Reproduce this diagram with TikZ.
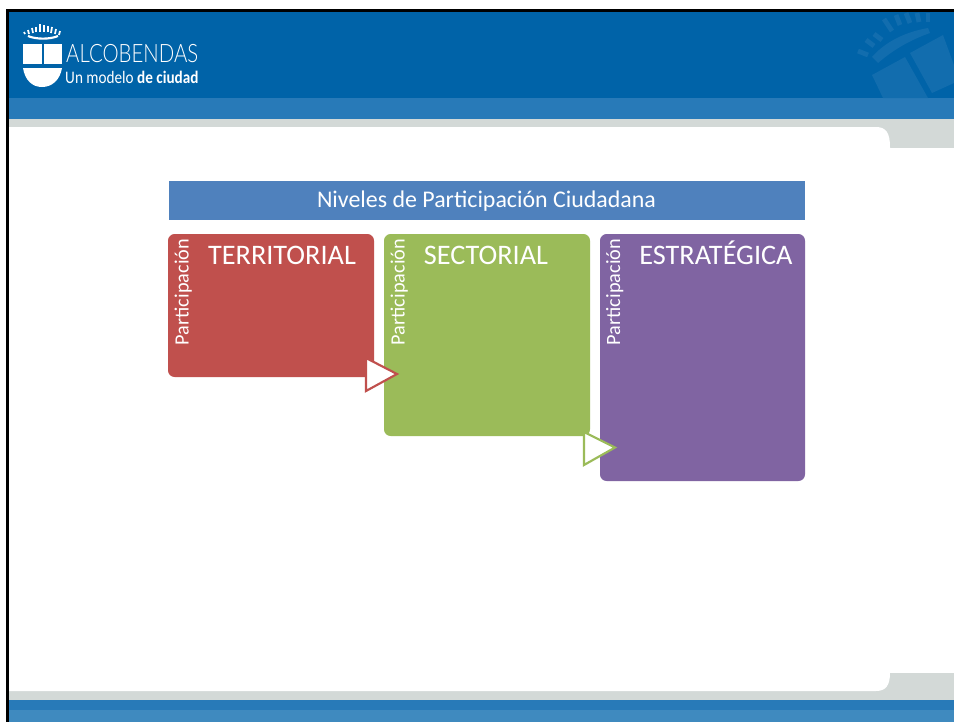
\documentclass[tikz,border=0pt]{standalone}
\usepackage{fontspec}
\setmainfont{Carlito}
\newfontfamily\logofont{Lato Light}
\definecolor{hdr}{HTML}{0063A8}
\definecolor{band}{HTML}{287AB8}
\definecolor{band2}{HTML}{3F8ABF}
\definecolor{gry}{HTML}{D3D9D7}
\definecolor{wm}{HTML}{126DAE}
\definecolor{ttl}{HTML}{4F81BD}
\definecolor{red1}{HTML}{C0504D}
\definecolor{grn1}{HTML}{9BBB59}
\definecolor{pur1}{HTML}{8064A2}
\tikzset{
  x=0.75pt,y=-0.75pt,
  cardbox/.style={rounded corners=5pt,draw=none},
  cardhead/.style={text=white,font=\fontsize{21.2}{24}\selectfont,anchor=base},
  sidelabel/.style={text=white,font=\fontsize{15.2}{17}\selectfont,rotate=90,anchor=base west,inner sep=0pt},
  tri/.style={fill=white,line width=1.6pt,line join=miter,miter limit=10},
  logotxt/.style={text=white,inner sep=0pt,anchor=base west}
}
\begin{document}
\begin{tikzpicture}
\useasboundingbox (0,0) rectangle (954,722);
\fill[white] (0,0) rectangle (954,722);
% side bands
\fill[hdr] (9,12) rectangle (954,98);
\fill[band] (9,98) rectangle (954,119);
\fill[gry] (9,119) rectangle (954,148);
\fill[gry] (9,673) rectangle (954,700);
\fill[band] (9,700) rectangle (954,710);
\fill[band2] (9,710) rectangle (954,722);
% white panel
\fill[white] (9,127) -- (876,127) .. controls (886,127) and (890,133) .. (890,147) -- (890,148)
  -- (890,673) .. controls (890,685) and (886,691) .. (876,691) -- (9,691) -- cycle;
% frame
\fill[black] (6,9) rectangle (954,12);
\fill[black] (6,9) rectangle (9,722);
% watermark
\begin{scope}
\clip (850,12) rectangle (954,98);
\fill[wm] (872,75) -- (905,57) -- (928,98) -- (883,98) -- cycle;
\fill[wm] (910,53) -- (943,35) -- (954,65) -- (954,83) -- (932,93) -- cycle;
\fill[wm] (872,57) .. controls (885,42) and (905,32) .. (928,28) -- (930,33) .. controls (910,40) and (893,50) .. (878,63) -- cycle;
\foreach \a/\b/\c/\d in {858/51/868/55,866/40/874/46,874/34/882/40,884/19/892/31,896/15/900/25,906/13/910/23,917/13/919/22,928/13/928/22}{
  \draw[wm,line width=3.6pt] (\a,\b) -- (\c,\d);
}
\end{scope}
% logo
\node[logotxt,xscale=.805,font=\logofont\fontsize{19}{22}\selectfont] (alco) at (66,62) {ALCOBENDAS};
\node[logotxt,xscale=.865,font=\fontsize{13.2}{15}\selectfont] (lema) at (65,83) {Un modelo \textbf{de ciudad}};
\fill[white] (23,44) rectangle (42,64);
\fill[white] (44,44) rectangle (62,64);
\fill[white] (23,68) -- (62,68) .. controls (60,80) and (52,87) .. (42,87) .. controls (32,87) and (25,80) .. (23,68) -- cycle;
\draw[white,line width=1.6pt] (28,36) .. controls (36,39.5) and (50,39.5) .. (58,36);
\foreach \a/\b/\c/\d in {24/32/25/34,28/30/29/34,32/28/33/33,36/27/36/32,40/24/40/32,44/25/44/32,48/26/48/32,52/27/51/33,56/29/55/34,60/31/59/35}{
  \draw[white,line width=1.3pt] (\a,\b) -- (\c,\d);
}
% title
\node[fill=ttl,minimum width=477pt,minimum height=29.25pt,inner sep=0pt] (title) at (487,200.5) {};
\node[anchor=base,inner sep=0pt,text=white,font=\fontsize{17.93}{20}\selectfont] (titletext) at (486.5,207.5) {Niveles de Participación Ciudadana};
% cards
\fill[red1,cardbox] (168,234) rectangle (374,377);
\fill[grn1,cardbox] (384,234) rectangle (590,436);
\fill[pur1,cardbox] (600,234) rectangle (805,481);
\node[cardhead] (h1) at (282,264) {TERRITORIAL};
\node[cardhead] (h2) at (486,264) {SECTORIAL};
\node[cardhead] (h3) at (716,264) {ESTRATÉGICA};
\node[sidelabel] (s1) at (188.5,345.5) {Participación};
\node[sidelabel] (s2) at (404.5,345.5) {Participación};
\node[sidelabel] (s3) at (620,345.5) {Participación};
% arrows
\draw[red1,tri] (366,358) -- (397,374) -- (366,391) -- cycle;
\draw[grn1,tri] (584,432) -- (615,447.5) -- (584,465) -- cycle;
\end{tikzpicture}
\end{document}
